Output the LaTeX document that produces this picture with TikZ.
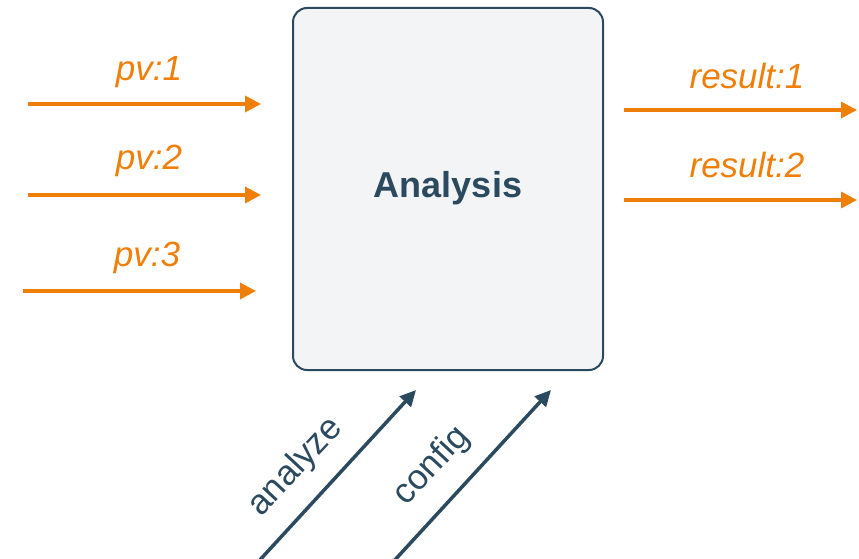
\documentclass[tikz,border=0pt]{standalone}
\usepackage{fontspec}
\setmainfont{Liberation Sans}
\usetikzlibrary{arrows.meta}
\definecolor{flow}{HTML}{F07F09}
\definecolor{slate}{HTML}{2B4A5F}
\definecolor{boxfill}{HTML}{F3F4F6}
\tikzset{
  procbox/.style={draw=slate, line width=2pt, fill=boxfill, rounded corners=14pt,
    minimum width=310pt, minimum height=362pt, inner sep=0pt},
  flowarrow/.style={draw=flow, line width=3.5pt, -{Triangle[length=16pt,width=16pt]}},
  ctrlarrow/.style={draw=slate, line width=3.5pt, -{Triangle[length=16pt,width=15pt]}},
  flowlabel/.style={text=flow, font=\fontsize{35}{40}\selectfont\itshape, inner sep=0pt},
  ctrllabel/.style={text=slate, font=\fontsize{35}{40}\selectfont, inner sep=0pt, rotate=47},
  titlelabel/.style={text=slate, font=\fontsize{36}{42}\selectfont\bfseries, inner sep=0pt}
}
\begin{document}
\begin{tikzpicture}[x=1pt,y=-1pt]
\useasboundingbox (0,0) rectangle (859,559);
% central process box
\node[procbox] (box) at (448,189) {};
\node[titlelabel] (title) at (448,188) {Analysis};
% inputs
\coordinate (i1s) at (28,104);  \coordinate (i1e) at (261,104);
\coordinate (i2s) at (28,195);  \coordinate (i2e) at (261,195);
\coordinate (i3s) at (23,291);  \coordinate (i3e) at (256,291);
\draw[flowarrow] (i1s) -- (i1e);
\draw[flowarrow] (i2s) -- (i2e);
\draw[flowarrow] (i3s) -- (i3e);
\node[flowlabel] (l1) at (149,72) {pv:1};
\node[flowlabel] (l2) at (149,161) {pv:2};
\node[flowlabel] (l3) at (147,258) {pv:3};
% outputs
\coordinate (o1s) at (624,110); \coordinate (o1e) at (857,110);
\coordinate (o2s) at (624,200); \coordinate (o2e) at (857,200);
\draw[flowarrow] (o1s) -- (o1e);
\draw[flowarrow] (o2s) -- (o2e);
\node[flowlabel] (r1) at (747,76) {result:1};
\node[flowlabel] (r2) at (747,165) {result:2};
% control inputs
\coordinate (c1s) at (258,562); \coordinate (c1e) at (416,390);
\coordinate (c2s) at (393,562); \coordinate (c2e) at (551,390);
\draw[ctrlarrow] (c1s) -- (c1e);
\draw[ctrlarrow] (c2s) -- (c2e);
\node[ctrllabel] (k1) at (296,467) {analyze};
\node[ctrllabel] (k2) at (432,466) {config};
\end{tikzpicture}
\end{document}
